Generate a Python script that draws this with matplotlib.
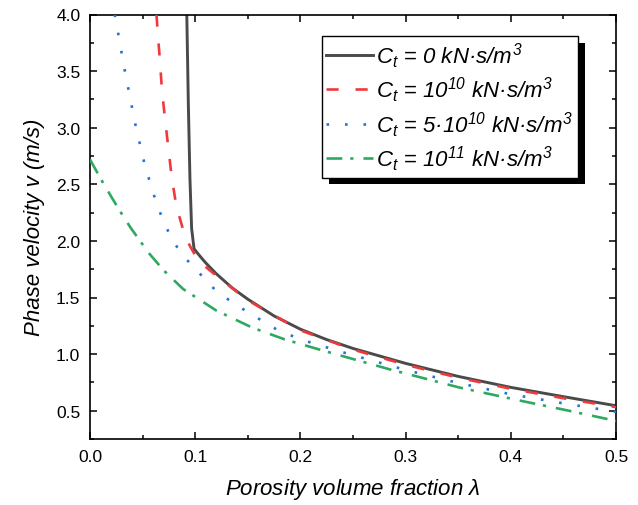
import matplotlib
matplotlib.use("Agg")
import matplotlib.pyplot as plt
from matplotlib.patches import Rectangle
from matplotlib.transforms import IdentityTransform
from matplotlib.ticker import MultipleLocator, FormatStrFormatter

plt.rcParams['font.family'] = ['Liberation Sans', 'DejaVu Sans']
plt.rcParams['mathtext.fontset'] = 'custom'
plt.rcParams['mathtext.rm'] = 'Liberation Sans:italic'
plt.rcParams['mathtext.it'] = 'Liberation Sans:italic'
plt.rcParams['mathtext.bf'] = 'Liberation Sans:bold:italic'

# ---- data ----
lam_c0 = [0.092, 0.0935, 0.095, 0.0966, 0.0989, 0.105, 0.110, 0.120, 0.135, 0.150,
          0.175, 0.200, 0.225, 0.250, 0.300, 0.350, 0.400, 0.450, 0.500]
v_c0 = [4.0, 3.2, 2.55, 2.11, 1.93, 1.86, 1.806, 1.71, 1.586, 1.485,
        1.337, 1.22, 1.128, 1.05, 0.918, 0.803, 0.706, 0.624, 0.544]

lam_c1 = [0.0632, 0.0643, 0.0665, 0.0684, 0.0713, 0.0745, 0.0776, 0.082, 0.0894, 0.095,
          0.1014, 0.110, 0.1204, 0.150, 0.200, 0.250, 0.300, 0.350, 0.400, 0.450, 0.500]
v_c1 = [4.0, 3.85, 3.59, 3.33, 3.08, 2.82, 2.57, 2.31, 2.07, 1.955,
        1.85, 1.77, 1.69, 1.475, 1.21, 1.04, 0.906, 0.792, 0.694, 0.61, 0.532]

lam_c2 = [0.0235, 0.0254, 0.0285, 0.0311, 0.0342, 0.0374, 0.0406, 0.0437, 0.0475, 0.0513,
          0.0558, 0.0605, 0.0659, 0.0722, 0.0792, 0.0885, 0.1213, 0.150, 0.177, 0.200,
          0.239, 0.250, 0.300, 0.350, 0.400, 0.450, 0.500]
v_c2 = [4.0, 3.90, 3.75, 3.60, 3.45, 3.30, 3.148, 3.003, 2.853, 2.702,
        2.556, 2.411, 2.266, 2.125, 1.995, 1.868, 1.544, 1.37, 1.22, 1.13,
        1.02, 0.99, 0.86, 0.745, 0.645, 0.565, 0.49]

lam_c3 = [0.0, 0.0038, 0.012, 0.0212, 0.0301, 0.0387, 0.0557, 0.070, 0.0885, 0.120,
          0.154, 0.185, 0.220, 0.285, 0.351, 0.416, 0.450, 0.480, 0.500]
v_c3 = [2.72, 2.655, 2.52, 2.375, 2.24, 2.115, 1.895, 1.74, 1.575, 1.385,
        1.235, 1.13, 1.035, 0.865, 0.705, 0.575, 0.51, 0.45, 0.41]

labels = [r'$C_t$ = $0\ kN{·}s/m^3$',
          r'$C_t$ = $10^{10}\ kN{·}s/m^3$',
          r'$C_t$ = $5{·}10^{10}\ kN{·}s/m^3$',
          r'$C_t$ = $10^{11}\ kN{·}s/m^3$']

xlabel = r'Porosity volume fraction $λ$'
ylabel = 'Phase velocity v (m/s)'

# ---- figure ----
fig = plt.figure(figsize=(6.38, 5.06), dpi=100)
ax = fig.add_axes([90 / 638, 1 - 440 / 506, (616 - 90) / 638, (440 - 15.5) / 506])

lw = 1.9
ax.plot(lam_c0, v_c0, color='#4a4a4a', lw=2.1, ls='-', label=labels[0], zorder=2)
ax.plot(lam_c1, v_c1, color='#F0393C', lw=lw, ls=(0, (4.6, 6.4)), label=labels[1], zorder=3)
ax.plot(lam_c2, v_c2, color='#2473D6', lw=lw, ls=(0, (1.0, 6.0)), label=labels[2], zorder=3)
ax.plot(lam_c3, v_c3, color='#2FA862', lw=lw, ls=(0, (6.0, 3.0, 1.2, 3.8)), label=labels[3], zorder=3)

ax.set_xlim(0, 0.5)
ax.set_ylim(0.25, 4.0)
ax.xaxis.set_major_locator(MultipleLocator(0.1))
ax.xaxis.set_minor_locator(MultipleLocator(0.05))
ax.yaxis.set_major_locator(MultipleLocator(0.5))
ax.yaxis.set_minor_locator(MultipleLocator(0.25))
ax.xaxis.set_major_formatter(FormatStrFormatter('%.1f'))
ax.yaxis.set_major_formatter(FormatStrFormatter('%.1f'))

ax.tick_params(which='both', direction='in', top=True, right=True, width=1.1,
               labelsize=12.5, pad=7)
ax.tick_params(which='major', length=5)
ax.tick_params(which='minor', length=3)
for s in ax.spines.values():
    s.set_linewidth(1.2)

ax.set_xlabel(xlabel, fontsize=16, style='italic', labelpad=9)
ax.set_ylabel(ylabel, fontsize=16, style='italic', labelpad=8)

leg = ax.legend(loc='upper right', bbox_to_anchor=(578 / 638, 1 - 37 / 506),
                bbox_transform=fig.transFigure, fontsize=16, frameon=True,
                fancybox=False, edgecolor='black', framealpha=1, borderpad=0.2,
                handlelength=2.1, handletextpad=0.15, labelspacing=0.22,
                borderaxespad=0)
leg.get_frame().set_linewidth(1.0)
leg.set_zorder(6)

fig.canvas.draw()
bb = leg.get_window_extent()
shadow = Rectangle((bb.x0 + 6.5, bb.y0 - 6.5), bb.width, bb.height,
                   transform=IdentityTransform(), facecolor='black', edgecolor='none',
                   zorder=5.5, clip_on=False)
ax.add_artist(shadow)

fig.savefig('out.png', dpi=100)
